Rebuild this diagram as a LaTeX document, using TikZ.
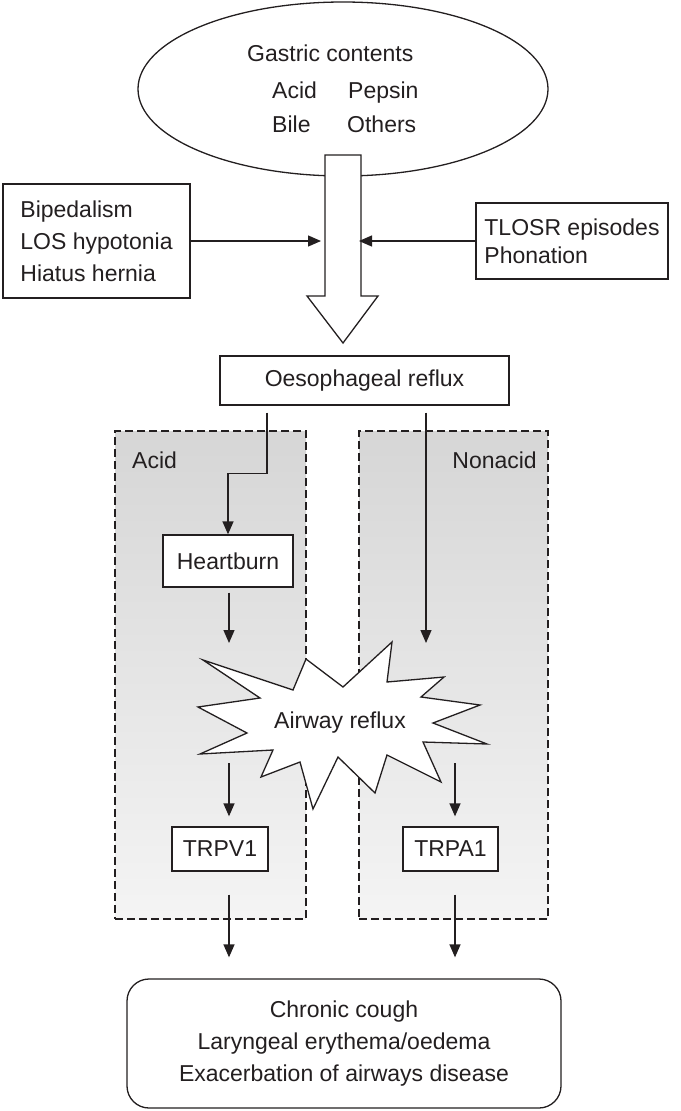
\documentclass[tikz,border=0pt]{standalone}
\usepackage{fontspec}
\setmainfont{Liberation Sans}
\usetikzlibrary{arrows.meta,shapes.geometric}
\definecolor{ink}{HTML}{231F20}
\definecolor{shadetop}{HTML}{D6D6D6}
\definecolor{shadebot}{HTML}{F4F4F4}
\begin{document}
\begin{tikzpicture}[x=1pt,y=-1pt,
  txt/.style={font=\fontsize{23}{32}\selectfont, text=ink, inner sep=0pt},
  line/.style={draw=ink, line width=1.3pt},
  arr/.style={line, -{Triangle[length=13pt,width=11pt]}},
  box/.style={txt, draw=ink, line width=1.3pt, fill=white},
  dbox/.style={draw=ink, line width=1.2pt, dash pattern=on 8pt off 4pt,
    top color=shadetop, bottom color=shadebot, inner sep=0pt}]
\useasboundingbox (0,0) rectangle (680,1111);

% gastric contents
\node[ellipse, draw=ink, line width=1.3pt, minimum width=410pt, minimum height=174pt, inner sep=0pt] (gas) at (343,89) {};
\node[txt, anchor=base west] (gt) at (247,61) {Gastric contents};
\node[txt, anchor=base west] (g1) at (272,98) {Acid};
\node[txt, anchor=base west] (g2) at (348,98) {Pepsin};
\node[txt, anchor=base west] (g3) at (272,132) {Bile};
\node[txt, anchor=base west] (g4) at (347,132) {Others};

% big hollow arrow
\draw[line, fill=white] (325,155) -- (361,155) -- (361,296) -- (378,296) -- (343,343) -- (307,296) -- (325,296) -- cycle;
\coordinate (shaftL) at (321,241);
\coordinate (shaftR) at (359,241);

% side factors
\node[box, minimum width=187pt, minimum height=114pt, align=left] (fac) at (96.5,241)
  {Bipedalism\\LOS hypotonia\\Hiatus hernia};
\node[box, minimum width=192pt, minimum height=76pt, align=left,
  font=\fontsize{23}{28}\selectfont] (tlo) at (572,241)
  {TLOSR episodes\\Phonation};
\draw[arr] (fac.east) -- (shaftL);
\draw[arr] (tlo.west) -- (shaftR);

% oesophageal reflux
\node[box, minimum width=289pt, minimum height=49pt] (oes) at (364.5,380.5) {Oesophageal reflux};

% dashed panels
\node[dbox, minimum width=191pt, minimum height=488pt] (acidp) at (210.5,675) {};
\node[dbox, minimum width=189pt, minimum height=488pt] (nonp) at (453.5,675) {};
\node[txt, anchor=base west] (acidl) at (132,468) {Acid};
\node[txt, anchor=base east] (nonl) at (537,468) {Nonacid};

% heartburn
\node[box, minimum width=130pt, minimum height=52pt] (hb) at (228,561) {Heartburn};
\draw[arr, shorten <=7pt] ([xshift=-97.5pt]oes.south) -- ++(0,68) -| (hb.north);

\coordinate (s1) at (229,643);
\coordinate (s2) at (426,643);
\draw[arr] ([xshift=1pt,yshift=-5pt]hb.south) -- (s1);
\draw[arr, shorten <=7pt] ([xshift=61.5pt]oes.south) -- (s2);

% airway reflux star
\draw[line, fill=white] (203,660) -- (293,690) -- (306,659) -- (343,687) -- (392,642) -- (387,682)
  -- (444,677) -- (421,697) -- (480,705) -- (433,723) -- (487,744) -- (423,742) -- (441,782)
  -- (387,755) -- (375,793) -- (338,757) -- (313,809) -- (300,762) -- (261,777) -- (273,750)
  -- (200,754) -- (247,733) -- (198,707) -- (260,698) -- cycle;
\node[txt] (air) at (340,723) {Airway reflux};

% receptors
\node[box, minimum width=96pt, minimum height=44pt] (v1) at (220,849) {TRPV1};
\node[box, minimum width=95pt, minimum height=44pt] (a1) at (450.5,849) {TRPA1};
\coordinate (s3) at (229,763);
\coordinate (s4) at (455,763);
\draw[arr, shorten >=10pt] (s3) -- (s3 |- v1.north);
\draw[arr, shorten >=10pt] (s4) -- (s4 |- a1.north);

% outcome
\node[box, rounded corners=22pt, minimum width=434pt, minimum height=129pt, align=center] (out) at (344,1043.5)
  {Chronic cough\\Laryngeal erythema/oedema\\Exacerbation of airways disease};
\draw[arr, shorten <=23pt, shorten >=21pt] (s3 |- v1.south) -- (s3 |- out.north);
\draw[arr, shorten <=23pt, shorten >=21pt] (s4 |- a1.south) -- (s4 |- out.north);
\end{tikzpicture}
\end{document}
